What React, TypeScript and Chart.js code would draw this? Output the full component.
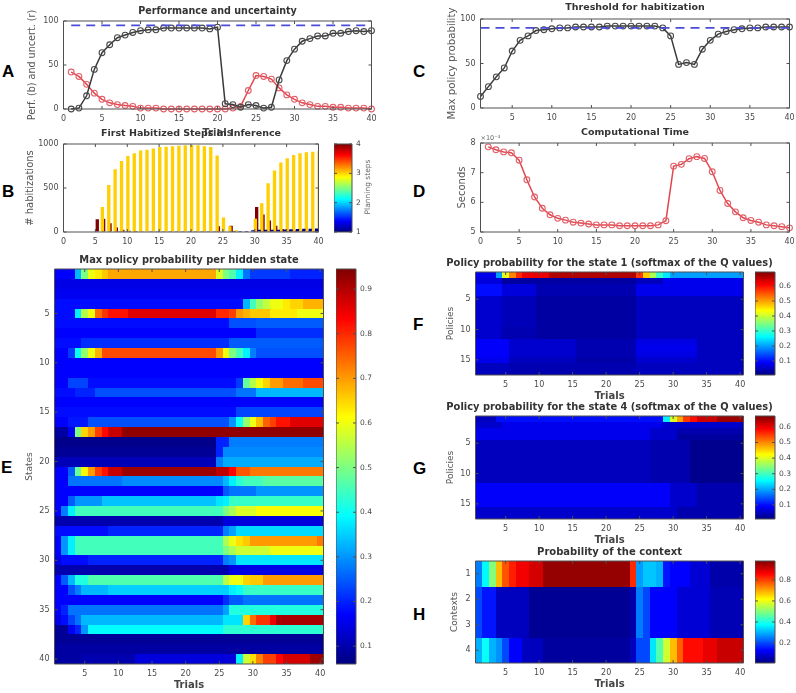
import React, { useEffect, useRef } from "react";
import { Chart, registerables } from "chart.js";

Chart.register(...registerables);

// ---------- line data (trials 1..40) ----------
const trials = [1,2,3,4,5,6,7,8,9,10,11,12,13,14,15,16,17,18,19,20,21,22,23,24,25,26,27,28,29,30,31,32,33,34,35,36,37,38,39,40];
const performance = [0,1,15,45,64,73,81,84,87,89,90,90,92,92,92,92,92,92,91,93,6,5,2,5,4,1,2,33,55,68,77,80,83,83,86,86,88,89,88,89];
const uncertainty = [42,37,28,18,11,7,5,4,3,1,1,1,0,0,0,0,0,0,0,0,0,1,3,21,38,37,34,24,16,11,7,5,3,3,2,2,1,1,1,0];
const perfTarget = [95, 95];
const maxPolicy = [13,24,35,45,64,76,81,87,88,89,90,90,91,91,91,91,92,92,92,92,92,92,92,90,81,49,51,49,66,76,83,86,88,89,90,90,91,91,91,91];
const habitThreshold = [90, 90];
const compTime = [7.87,7.77,7.7,7.67,7.42,6.76,6.18,5.8,5.58,5.46,5.4,5.33,5.3,5.27,5.24,5.24,5.24,5.21,5.21,5.21,5.21,5.21,5.24,5.38,7.22,7.28,7.47,7.54,7.48,7.03,6.4,5.96,5.68,5.48,5.39,5.33,5.24,5.21,5.18,5.14];

// ---------- habitization bars, one list per planning step ----------
const habitStep1 = [0,0,0,0,0,0,0,0,3,4,5,5,6,8,8,8,8,8,8,8,8,8,8,8,0,0,10,10,10,20,25,25,25,25,28,30,35,38,38,40];
const habitStep2 = [0,0,0,0,0,0,0,0,0,0,0,0,0,0,0,0,0,0,0,0,0,0,0,0,0,0,0,0,0,0,0,0,0,0,0,0,0,0,0,0];
const habitStep3 = [0,0,0,0,0,283,535,713,807,864,894,925,935,950,966,970,975,980,985,988,985,975,966,868,166,65,20,0,0,150,328,555,698,790,838,875,894,905,913,920];
const habitStep4 = [0,0,0,0,145,150,100,50,25,15,10,8,6,5,5,5,5,5,5,5,5,5,5,65,5,70,5,0,0,285,200,130,70,35,25,18,15,12,10,8];

// ---------- tick labels ----------
const ticks0to40 = [0,5,10,15,20,25,30,35,40];
const ticks5to40 = [5,10,15,20,25,30,35,40];
const ticksPct = [0,50,100];
const ticksHabit = [0,500,1000];
const ticksSeconds = [5,6,7,8];
const ticksStates = [5,10,15,20,25,30,35,40];
const ticksPolicies = [5,10,15];
const ticksContexts = [1,2,3,4];
const barStates = [0.1,0.2,0.3,0.4,0.5,0.6,0.7,0.8,0.9];
const barPolicies = [0.1,0.2,0.3,0.4,0.5,0.6];
const barContexts = [0.2,0.4,0.6,0.8];
const barSteps = [1,2,3,4];

// ---------- heat maps: each row is a run list of value, count ----------
const stateRows = [
  [.17,3,.33,1,.5,1,.6,1,.63,1,.66,1,.69,16,.58,1,.5,1,.46,1,.38,1,.27,1,.22,6,.2,5],
  [.15,40],
  [.16,40],
  [.18,28,.33,1,.45,1,.52,1,.56,1,.6,2,.63,1,.65,2,.68,3],
  [.18,3,.38,1,.55,1,.6,1,.74,1,.79,1,.82,3,.86,13,.8,2,.78,1,.7,1,.68,1,.66,3,.63,4,.6,4],
  [.18,26,.24,4,.25,10],
  [.17,30,.21,10],
  [.18,4,.21,22,.25,14],
  [.17,2,.22,1,.4,1,.52,1,.6,1,.68,1,.77,17,.7,1,.6,1,.5,1,.45,1,.38,1,.28,1,.24,10],
  [.17,40],
  [.17,40],
  [.17,2,.23,3,.18,22,.22,1,.48,1,.55,1,.6,1,.65,1,.7,2,.74,3,.77,5],
  [.18,3,.2,3,.24,21,.27,3,.33,10],
  [.17,40],
  [.18,27,.23,13],
  [.17,2,.19,3,.24,21,.3,1,.4,1,.52,1,.6,1,.67,1,.75,1,.78,1,.82,2,.86,5],
  [.09,2,.16,1,.5,1,.65,1,.7,1,.78,1,.83,1,.88,2,.93,30],
  [.07,24,.2,2,.28,14],
  [.08,24,.2,1,.29,15],
  [.11,24,.28,1,.32,15],
  [.17,2,.25,1,.48,1,.62,1,.7,1,.78,1,.82,1,.88,2,.92,14,.89,2,.83,1,.76,2,.73,11],
  [.17,2,.27,8,.29,15,.33,1,.38,1,.43,1,.45,3,.47,9],
  [.17,25,.25,1,.27,4,.3,10],
  [.17,2,.25,1,.3,4,.34,17,.37,1,.38,1,.44,14],
  [.17,1,.28,1,.38,1,.45,22,.5,1,.54,1,.58,3,.61,10],
  [.1,25,.14,15],
  [.18,8,.2,17,.28,1,.31,1,.36,13],
  [.17,1,.3,1,.38,1,.45,22,.54,1,.6,1,.64,1,.66,1,.7,10,.73,1],
  [.17,1,.3,1,.38,1,.45,22,.5,1,.54,1,.57,5,.6,8],
  [.15,1,.18,4,.2,20,.28,1,.3,1,.37,13],
  [.1,26,.15,14],
  [.17,1,.25,1,.33,1,.42,2,.46,20,.55,1,.6,2,.65,1,.66,2,.7,9],
  [.17,2,.24,1,.28,1,.33,4,.35,18,.38,1,.4,1,.44,12],
  [.17,25,.21,1,.25,2,.27,12],
  [.17,1,.2,1,.27,23,.31,1,.42,14],
  [.15,1,.18,1,.23,1,.27,1,.33,21,.37,3,.65,1,.74,1,.79,2,.85,1,.91,7],
  [.08,2,.16,1,.2,1,.3,1,.39,20,.43,15],
  [.08,40],
  [.09,40],
  [.09,4,.1,8,.14,15,.38,1,.57,1,.64,1,.72,1,.78,2,.83,1,.87,4,.92,2],
];
const state1Rows = [
  [.08,3,.2,1,.42,1,.52,1,.58,1,.62,4,.66,13,.57,1,.47,1,.38,1,.3,1,.25,1,.2,11],
  [.07,4,.03,20,.05,4,.08,12],
  [.1,4,.07,5,.04,15,.08,16],
  [.1,4,.07,5,.04,15,.08,16],
  [.06,4,.045,5,.03,15,.05,16],
  [.06,4,.045,5,.03,15,.05,16],
  [.06,4,.045,5,.03,15,.05,16],
  [.06,4,.045,5,.03,15,.05,16],
  [.06,4,.045,5,.03,15,.05,16],
  [.06,4,.04,5,.03,15,.05,16],
  [.06,4,.04,5,.03,15,.05,16],
  [.09,5,.06,10,.04,9,.075,9,.05,7],
  [.09,5,.06,10,.04,9,.08,9,.05,7],
  [.09,5,.06,10,.04,9,.075,9,.05,7],
  [.08,5,.05,10,.035,9,.06,9,.05,7],
  [.05,5,.04,19,.05,16],
  [.05,5,.04,19,.05,16],
];
const state4Rows = [
  [.05,3,.1,25,.25,1,.4,1,.48,1,.55,1,.58,1,.62,3,.65,4],
  [.06,4,.08,24,.06,12],
  [.08,26,.06,4,.04,10],
  [.08,26,.06,4,.03,10],
  [.05,26,.04,6,.02,8],
  [.05,26,.04,6,.02,8],
  [.05,26,.04,6,.02,8],
  [.05,26,.04,6,.02,8],
  [.05,26,.04,6,.02,8],
  [.05,26,.04,6,.02,8],
  [.05,26,.04,6,.02,8],
  [.09,29,.06,4,.04,7],
  [.09,29,.06,4,.04,7],
  [.09,29,.06,4,.04,7],
  [.09,29,.06,4,.04,7],
  [.06,30,.04,10],
  [.06,30,.04,10],
];
const contextRows = [
  [.25,1,.37,1,.5,1,.68,1,.78,1,.83,1,.87,2,.9,2,.96,13,.82,1,.28,1,.32,2,.3,1,.15,1,.13,3,.09,3,.05,5],
  [.2,1,.15,2,.07,5,.03,15,.05,1,.25,1,.2,1,.13,4,.09,5,.06,5],
  [.2,1,.15,2,.07,5,.03,15,.05,1,.25,1,.2,1,.13,4,.09,5,.06,5],
  [.3,1,.38,1,.3,1,.27,1,.2,1,.13,2,.07,3,.04,13,.07,1,.2,2,.35,1,.45,1,.57,1,.68,1,.77,1,.85,3,.88,2,.91,4],
];

const FONT = "'DejaVu Sans', sans-serif";
const TXT = "#4a4a4a";

function jet(t: number) {
  const c = (v: number) => Math.round(255 * Math.min(1, Math.max(0, v)));
  const k = Math.min(1, Math.max(0, t));
  return `rgb(${c(1.5 - Math.abs(4 * k - 3))},${c(1.5 - Math.abs(4 * k - 2))},${c(1.5 - Math.abs(4 * k - 1))})`;
}

function expand(runs: number[]) {
  const out: number[] = [];
  for (let i = 0; i < runs.length; i += 2) for (let n = 0; n < runs[i + 1]; n++) out.push(runs[i]);
  return out.slice(0, 40);
}

const boxPlugin = {
  id: "matBox",
  afterDatasetsDraw(chart: any) {
    const { ctx, chartArea: a, scales } = chart;
    ctx.save();
    ctx.strokeStyle = "#505050";
    ctx.lineWidth = 1;
    ctx.beginPath();
    ctx.rect(a.left, a.top, a.right - a.left, a.bottom - a.top);
    const len = 3;
    if (scales.x.options.display) {
      for (const t of scales.x.ticks) {
        const p = scales.x.getPixelForValue(t.value);
        ctx.moveTo(p, a.bottom); ctx.lineTo(p, a.bottom - len);
        ctx.moveTo(p, a.top); ctx.lineTo(p, a.top + len);
      }
    }
    for (const t of scales.y.ticks) {
      const p = scales.y.getPixelForValue(t.value);
      ctx.moveTo(a.left, p); ctx.lineTo(a.left + len, p);
      ctx.moveTo(a.right, p); ctx.lineTo(a.right - len, p);
    }
    ctx.stroke();
    ctx.restore();
  },
};

function heatPlugin(min: number, max: number) {
  return {
    id: "heat",
    beforeDatasetsDraw(chart: any) {
      const { ctx, scales } = chart;
      ctx.save();
      for (const d of chart.data.datasets[0].data) {
        const x0 = Math.round(scales.x.getPixelForValue(d.x - 0.5));
        const x1 = Math.round(scales.x.getPixelForValue(d.x + 0.5));
        const y0 = Math.round(scales.y.getPixelForValue(d.y - 0.5));
        const y1 = Math.round(scales.y.getPixelForValue(d.y + 0.5));
        ctx.fillStyle = jet((d.v - min) / (max - min));
        ctx.fillRect(x0, y0, x1 - x0, y1 - y0);
      }
      ctx.restore();
    },
  };
}

function barPlugin(min: number, max: number, label?: string) {
  return {
    id: "colorbar",
    beforeDatasetsDraw(chart: any) {
      const { ctx, chartArea: a, scales } = chart;
      ctx.save();
      for (let p = Math.floor(a.top); p < a.bottom; p++) {
        const v = scales.y.getValueForPixel(p + 0.5);
        ctx.fillStyle = jet((v - min) / (max - min));
        ctx.fillRect(a.left, p, a.right - a.left, 1);
      }
      if (label) {
        ctx.translate(a.right + 16, (a.top + a.bottom) / 2 - 1);
        ctx.rotate(-Math.PI / 2);
        ctx.textAlign = "center";
        ctx.textBaseline = "middle";
        ctx.font = `7.5px ${FONT}`;
        ctx.fillStyle = "#666";
        ctx.fillText(label, 0, 0);
      }
      ctx.restore();
    },
  };
}

function sciPlugin(text: string) {
  return {
    id: "sci",
    afterDraw(chart: any) {
      const { ctx, chartArea: a } = chart;
      ctx.save();
      ctx.font = `6.5px ${FONT}`;
      ctx.fillStyle = "#666";
      ctx.textBaseline = "bottom";
      ctx.fillText(text, a.left, a.top - 1);
      ctx.restore();
    },
  };
}

type Frame = { l: number; t: number; r: number; b: number; labelX: number; d: number; xH: number; rp?: number };

function frame(f: Frame) {
  const x0 = f.labelX - 5.5;
  const topH = f.d + 8;
  return {
    style: { left: x0, top: f.t - topH },
    width: Math.ceil(f.r - x0 + (f.rp ?? 12)),
    height: Math.ceil(topH + (f.b - f.t) + f.xH),
    yW: f.l - x0,
    topH,
  };
}

function axisOptions(
  f: Frame,
  cfg: { title: string; titleSize?: number; wideTitle?: boolean; yLabel: string; xLabel?: string; xMin: number; xMax: number; xTicks: number[]; yMin: number; yMax: number; yTicks: number[]; reverse?: boolean; ySize?: number }
) {
  const g = frame(f);
  const explicit = (vals: number[]) => (s: any) => {
    s.ticks = vals.map((value) => ({ value }));
  };
  const size = cfg.titleSize ?? 9.5;
  const rightGap = g.width - (f.r - (f.labelX - 5.5));
  const spacer = cfg.wideTitle
    ? {
        spacer: {
          type: "linear",
          position: "right",
          min: 0,
          max: 1,
          ticks: { display: false },
          grid: { display: false },
          border: { display: false },
          afterFit: (s: any) => { s.width = rightGap; },
        },
      }
    : {};
  return {
    responsive: false,
    animation: false,
    devicePixelRatio: 1,
    events: [],
    layout: { padding: { top: 0, left: 0, bottom: 0, right: cfg.wideTitle ? 0 : rightGap } },
    plugins: {
      legend: { display: false },
      tooltip: { enabled: false },
      title: {
        display: true,
        text: cfg.title,
        fullSize: !!cfg.wideTitle,
        color: "#333",
        font: { family: FONT, size, weight: "bold", lineHeight: 12 / size },
        padding: { top: 2, bottom: g.topH - 14 },
      },
    },
    scales: {
      x: {
        type: "linear",
        offset: false,
        min: cfg.xMin,
        max: cfg.xMax,
        afterBuildTicks: explicit(cfg.xTicks),
        afterFit: (s: any) => { s.height = f.xH; },
        grid: { display: true, drawOnChartArea: false, drawTicks: false },
        border: { display: false },
        title: {
          display: !!cfg.xLabel,
          text: cfg.xLabel,
          color: "#444",
          padding: 0,
          font: { family: FONT, size: 10, weight: "bold", lineHeight: 1.2 },
        },
        ticks: {
          autoSkip: false,
          maxRotation: 0,
          padding: 5,
          color: TXT,
          font: { family: FONT, size: 8 },
          callback: (v: number) => String(v),
        },
      },
      y: {
        type: "linear",
        reverse: !!cfg.reverse,
        min: cfg.yMin,
        max: cfg.yMax,
        afterBuildTicks: explicit(cfg.yTicks),
        afterFit: (s: any) => { s.width = g.yW; },
        grid: { display: true, drawOnChartArea: false, drawTicks: false },
        border: { display: false },
        title: {
          display: true,
          text: cfg.yLabel,
          color: "#555",
          padding: 0,
          font: { family: FONT, size: cfg.ySize ?? 9, lineHeight: 11 / (cfg.ySize ?? 9) },
        },
        ticks: {
          autoSkip: false,
          padding: 5,
          color: TXT,
          font: { family: FONT, size: 8 },
          callback: (v: number) => String(v),
        },
      },
      ...spacer,
    },
  };
}

const xy = (vals: number[]) => vals.map((y, i) => ({ x: trials[i], y }));
const blackLine = (vals: number[]) => ({
  type: "line", data: xy(vals), borderColor: "#3a3a3a", borderWidth: 1.5, pointRadius: 2.9,
  pointBorderColor: "#4a4a4a", pointBorderWidth: 1.1, pointBackgroundColor: "transparent", tension: 0, clip: false,
});
const redLine = (vals: number[]) => ({
  type: "line", data: xy(vals), borderColor: "#e2474f", borderWidth: 1.5, pointRadius: 2.9,
  pointBorderColor: "#e2606a", pointBorderWidth: 1.1, pointBackgroundColor: "transparent", tension: 0, clip: false,
});
const dashLine = (vals: number[]) => ({
  type: "line", data: [{ x: 1, y: vals[0] }, { x: 40, y: vals[1] }], borderColor: "#4c4cd8", borderWidth: 1.7,
  borderDash: [9, 6], pointRadius: 0, tension: 0,
});

function heatDataset(rows: number[][]) {
  const data: { x: number; y: number; v: number }[] = [];
  rows.forEach((runs, r) => expand(runs).forEach((v, c) => data.push({ x: c + 1, y: r + 1, v })));
  return { type: "scatter", data, pointRadius: 0, showLine: false, xAxisID: "x", yAxisID: "y" };
}

type Spec = { style: any; width: number; height: number; config: any };

function linePanel(f: Frame, cfg: any, datasets: any[], plugins: any[] = []): Spec {
  const g = frame(f);
  return { style: g.style, width: g.width, height: g.height, config: { type: "line", data: { datasets }, options: axisOptions(f, cfg), plugins: [boxPlugin, ...plugins] } };
}

function heatPanel(f: Frame, cfg: any, rows: number[][], min: number, max: number): Spec {
  const g = frame(f);
  return { style: g.style, width: g.width, height: g.height, config: { type: "scatter", data: { datasets: [heatDataset(rows)] }, options: axisOptions(f, cfg), plugins: [heatPlugin(min, max), boxPlugin] } };
}

function colorBar(l: number, t: number, r: number, b: number, min: number, max: number, ticks: number[], label?: string): Spec {
  const labelW = label ? 36 : 24;
  const pad = 10;
  return {
    style: { left: l, top: t - pad },
    width: r - l + labelW,
    height: b - t + 2 * pad,
    config: {
      type: "scatter",
      data: { datasets: [{ data: [], pointRadius: 0 }] },
      options: {
        responsive: false, animation: false, devicePixelRatio: 1, events: [],
        layout: { padding: { top: pad, bottom: pad, left: 0, right: 0 } },
        plugins: { legend: { display: false }, tooltip: { enabled: false } },
        scales: {
          x: { type: "linear", display: false, min: 0, max: 1 },
          y: {
            type: "linear", position: "right", min, max,
            afterBuildTicks: (s: any) => { s.ticks = ticks.map((value) => ({ value })); },
            afterFit: (s: any) => { s.width = labelW; },
            grid: { display: true, drawOnChartArea: false, drawTicks: false },
            border: { display: false },
            ticks: { autoSkip: false, padding: 4, color: TXT, font: { family: FONT, size: 7.5 }, callback: (v: number) => String(v) },
          },
        },
      },
      plugins: [barPlugin(min, max, label), boxPlugin],
    },
  };
}

function buildSpecs(): Spec[] {
  const step = (vals: number[], color: string) => ({
    type: "bar", data: xy(vals), backgroundColor: color, borderWidth: 0, categoryPercentage: 0.8, barPercentage: 2.6,
  });
  return [
    linePanel({ l: 63, t: 21, r: 371, b: 109, labelX: 32, d: 10, xH: 30 },
      { title: "Performance and uncertainty", titleSize: 9.6, yLabel: "Perf. (b) and uncert. (r)", ySize: 9.6, xLabel: "Trials", xMin: 0, xMax: 40, xTicks: ticks0to40, yMin: 0, yMax: 100, yTicks: ticksPct },
      [dashLine(perfTarget), blackLine(performance), redLine(uncertainty)]),
    linePanel({ l: 63, t: 144, r: 318, b: 232, labelX: 30, d: 10, xH: 18 },
      { title: "First Habitized Steps in Inference", titleSize: 9.5, yLabel: "# habitizations", ySize: 10, xMin: 0, xMax: 40, xTicks: ticks0to40, yMin: 0, yMax: 1000, yTicks: ticksHabit },
      [step(habitStep1, "#00008f"), step(habitStep2, "#30ffcf"), step(habitStep3, "#ffcf00"), step(habitStep4, "#800000")]),
    colorBar(334, 144, 352, 232, 1, 4, barSteps, "Planning steps"),
    linePanel({ l: 480, t: 19, r: 789, b: 108, labelX: 452, d: 11, xH: 18 },
      { title: "Threshold for habitization", titleSize: 9.5, yLabel: "Max policy probability", ySize: 10.2, xMin: 1, xMax: 40, xTicks: ticks5to40, yMin: 0, yMax: 100, yTicks: ticksPct },
      [dashLine(habitThreshold), blackLine(maxPolicy)]),
    linePanel({ l: 480, t: 143, r: 789, b: 232, labelX: 462, d: 10, xH: 18 },
      { title: "Computational Time", titleSize: 9.5, yLabel: "Seconds", ySize: 10, xMin: 0, xMax: 40, xTicks: ticks0to40, yMin: 5, yMax: 8, yTicks: ticksSeconds },
      [redLine(compTime)], [sciPlugin("×10⁻³")]),
    heatPanel({ l: 54, t: 269, r: 323, b: 664, labelX: 29, d: 9, xH: 27 },
      { title: "Max policy probability per hidden state", titleSize: 9.9, yLabel: "States", xLabel: "Trials", xMin: 0.5, xMax: 40.5, xTicks: ticks5to40, yMin: 0.5, yMax: 40.5, yTicks: ticksStates, reverse: true },
      stateRows, 0.06, 0.945),
    colorBar(336, 269, 356, 664, 0.06, 0.945, barStates),
    heatPanel({ l: 475, t: 272, r: 743, b: 375, labelX: 450, d: 9, xH: 27, rp: 30.5 },
      { title: "Policy probability for the state 1 (softmax of the Q values)", titleSize: 9.9, wideTitle: true, yLabel: "Policies", xLabel: "Trials", xMin: 0.5, xMax: 40.5, xTicks: ticks5to40, yMin: 0.5, yMax: 17.5, yTicks: ticksPolicies, reverse: true },
      state1Rows, 0.007, 0.693),
    colorBar(755, 272, 775, 375, 0.007, 0.693, barPolicies),
    heatPanel({ l: 475, t: 416, r: 743, b: 519, labelX: 450, d: 9, xH: 27, rp: 30.5 },
      { title: "Policy probability for the state 4 (softmax of the Q values)", titleSize: 9.9, wideTitle: true, yLabel: "Policies", xLabel: "Trials", xMin: 0.5, xMax: 40.5, xTicks: ticks5to40, yMin: 0.5, yMax: 17.5, yTicks: ticksPolicies, reverse: true },
      state4Rows, 0.01, 0.67),
    colorBar(755, 416, 775, 519, 0.01, 0.67, barPolicies),
    heatPanel({ l: 475, t: 561, r: 743, b: 663, labelX: 454, d: 9, xH: 27 },
      { title: "Probability of the context", titleSize: 10, yLabel: "Contexts", xLabel: "Trials", xMin: 0.5, xMax: 40.5, xTicks: ticks5to40, yMin: 0.5, yMax: 4.5, yTicks: ticksContexts, reverse: true },
      contextRows, 0.01, 0.98),
    colorBar(755, 561, 775, 663, 0.01, 0.98, barContexts),
  ];
}

const panelLetters = [
  { text: "A", x: 2, y: 72 },
  { text: "B", x: 2, y: 192 },
  { text: "C", x: 413, y: 72 },
  { text: "D", x: 413, y: 192 },
  { text: "E", x: 1, y: 468 },
  { text: "F", x: 413, y: 325 },
  { text: "G", x: 413, y: 469 },
  { text: "H", x: 413, y: 615 },
];

export default function App() {
  const specs = useRef<Spec[]>(buildSpecs());
  const refs = useRef<(HTMLCanvasElement | null)[]>([]);
  useEffect(() => {
    const charts = specs.current.map((s, i) => new Chart(refs.current[i] as HTMLCanvasElement, s.config));
    return () => charts.forEach((c) => c.destroy());
  }, []);
  return (
    <div style={{ position: "fixed", left: 0, top: 0, width: 796, height: 693, background: "#fff", overflow: "hidden" }}>
      {specs.current.map((s, i) => (
        <canvas
          key={i}
          ref={(el) => { refs.current[i] = el; }}
          width={s.width}
          height={s.height}
          style={{ position: "absolute", ...s.style, width: s.width, height: s.height, display: "block", filter: "blur(0.7px)" }}
        />
      ))}
      {panelLetters.map((p) => (
        <div key={p.text} style={{ position: "absolute", left: p.x, top: p.y - 10, lineHeight: "20px", fontFamily: "'Liberation Sans', sans-serif", fontWeight: "bold", fontSize: 17, color: "#000" }}>
          {p.text}
        </div>
      ))}
    </div>
  );
}
